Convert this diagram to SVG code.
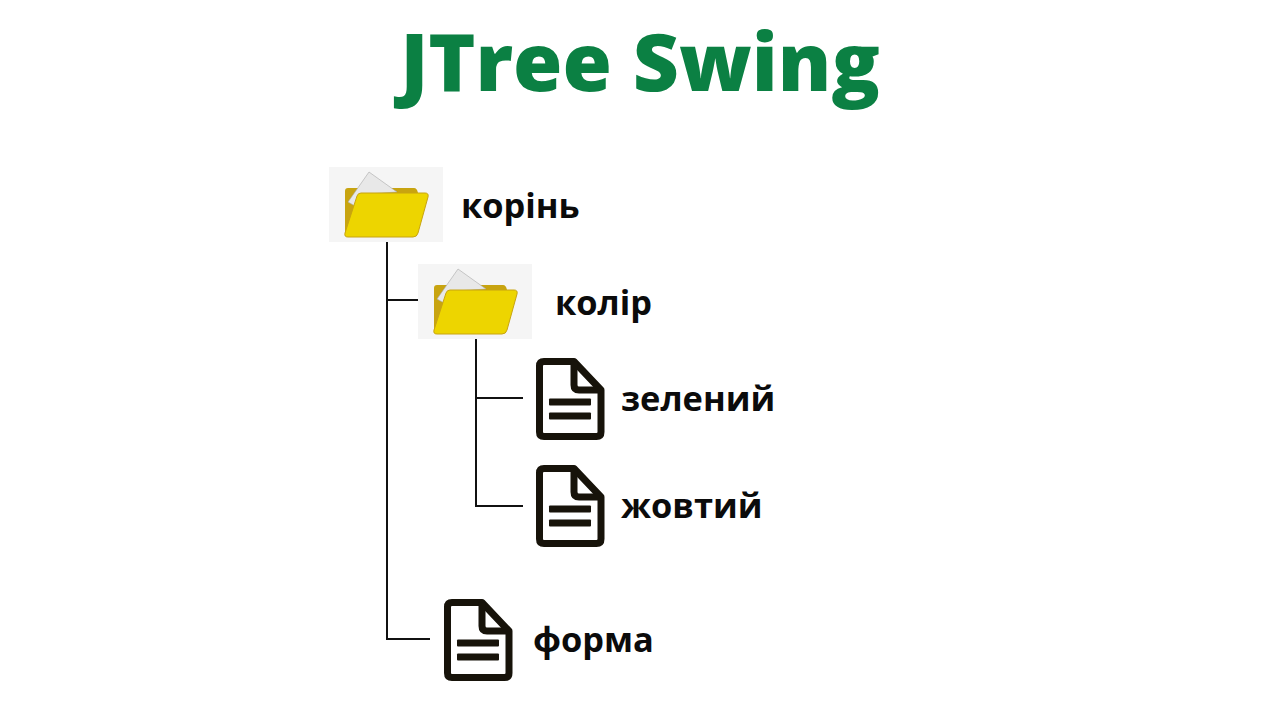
<svg xmlns="http://www.w3.org/2000/svg" xmlns:xlink="http://www.w3.org/1999/xlink" width="1280" height="720" viewBox="0 0 1280 720">
<style>
.t{font-family:"Open Sans","Noto Sans","Liberation Sans",sans-serif;font-weight:700;font-size:34.4px;fill:#0b0b0b}
.h{font-family:"Open Sans","Noto Sans","Liberation Sans",sans-serif;font-weight:800;font-size:80px;fill:#0b8043}
.c{fill:none;stroke:#111;stroke-width:2}
.d{fill:none;stroke:#17130a;stroke-width:7;stroke-linejoin:round}
.b{fill:#17130a}
</style>
<defs>
<g id="folder">
<rect x="0" y="0" width="114" height="75" fill="#f5f5f5"/>
<path d="M16 24Q16 21 19 21H85Q88 21 89 26H40L17 70Q16 68 16 66Z" fill="#c8a410"/>
<path d="M40 5L68 25L38 27L26 39L19 35Z" fill="#e8e8e8" stroke="#aaa" stroke-width="0.6"/>
<path d="M28 29Q29 26 32 26H96Q100 26 99 30L89 66Q88 70 84 70H19Q15 70 16 66Z" fill="#edd500" stroke="#c8a410" stroke-width="1"/>
</g>
<g id="doc">
<path class="d" d="M3.500 8Q3.500 3.500 8 3.500H38L65 32V74Q65 78.500 60.500 78.500H8Q3.500 78.500 3.500 74Z"/>
<path class="d" d="M38 3.500V27Q38 32 43 32H65"/>
<rect class="b" x="13" y="40.500" width="42" height="7" rx="1"/>
<rect class="b" x="13" y="54.500" width="42" height="7" rx="1"/>
</g>
</defs>
<rect width="1280" height="720" fill="#fff"/>
<text class="h" x="640" y="91" text-anchor="middle">JTree Swing</text>
<g id="connectors">
<path class="c" d="M387 242V639H430M387 300H418"/>
<path class="c" d="M476 339V506H523M476 398H523"/>
</g>
<g id="node-root"><use xlink:href="#folder" href="#folder" x="329" y="167"/><text class="t" x="461" y="218">корінь</text></g>
<g id="node-color"><use xlink:href="#folder" href="#folder" x="418" y="264"/><text class="t" x="555" y="315">колір</text></g>
<g id="node-green"><use xlink:href="#doc" href="#doc" x="536" y="358"/><text class="t" x="621" y="411">зелений</text></g>
<g id="node-yellow"><use xlink:href="#doc" href="#doc" x="536" y="465"/><text class="t" x="621" y="518">жовтий</text></g>
<g id="node-shape"><use xlink:href="#doc" href="#doc" x="444" y="599"/><text class="t" x="533" y="652">форма</text></g>
</svg>
